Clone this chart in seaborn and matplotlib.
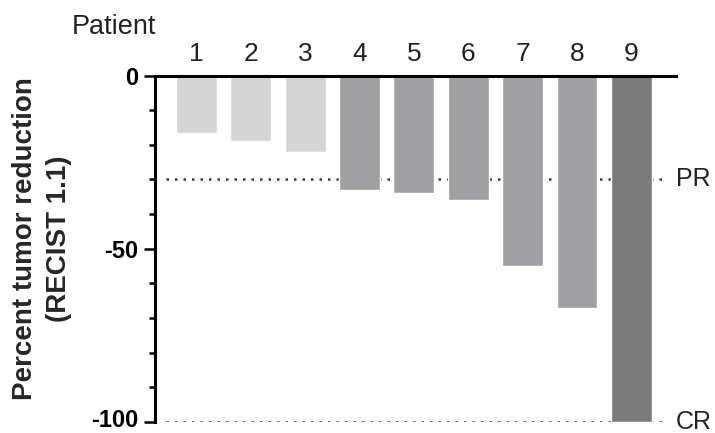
import matplotlib
matplotlib.use("Agg")
import matplotlib.pyplot as plt
import matplotlib.transforms as mtransforms
import seaborn as sns
import pandas as pd

# Best percent change in tumour size per patient (RECIST 1.1)
patients = ["1", "2", "3", "4", "5", "6", "7", "8", "9"]
reduction = [-16.5, -19, -22, -33, -34, -36, -55, -67, -100]
bar_colors = ["#d4d4d4", "#d4d4d4", "#d4d4d4",
              "#a0a0a2", "#a0a0a2", "#a0a0a2", "#a0a0a2", "#a0a0a2",
              "#7b7b7b"]
thresholds = [-30, -100]
threshold_labels = ["PR", "CR"]
y_major = [0, -50, -100]
y_minor = [-10, -20, -30, -40, -60, -70, -80, -90]

sns.set_theme(style="white")
plt.rcParams["font.family"] = ["Liberation Sans", "DejaVu Sans"]

df = pd.DataFrame({"patient": patients, "reduction": reduction})

fig = plt.figure(figsize=(7.15, 4.33), dpi=100)
ax = fig.add_axes([0.2168, 0.0254, 0.7287, 0.8002])

# Response threshold reference lines sit behind the bars
for t in thresholds:
    ax.plot([-0.56, 8.61], [t, t], color="#3a3a3a", lw=1.8,
            linestyle=(0, (1, 2.4)), zorder=0.5)

sns.barplot(data=df, x="patient", y="reduction", hue="patient",
            palette=dict(zip(patients, bar_colors)), legend=False,
            width=0.75, saturation=1, ax=ax, zorder=2)

ax.set_xlim(-0.76, 8.82)
ax.set_ylim(-100, 0)

ax.xaxis.tick_top()
ax.xaxis.set_label_position("top")
ax.tick_params(axis="x", length=0, pad=7, labelsize=19, colors="#222222")
ax.set_xlabel("")

ax.set_yticks(y_major)
ax.set_yticks(y_minor, minor=True)
ax.set_yticklabels([str(v) for v in y_major], fontweight="bold")
ax.tick_params(axis="y", which="major", length=8, width=1.8, pad=4,
               labelsize=17, left=True, color="black", labelcolor="black")
ax.tick_params(axis="y", which="minor", length=4, width=1.8, left=True,
               color="black")

# Nudge the lowest tick label up so it stays inside the figure
bottom_label = ax.get_yticklabels()[-1]
bottom_label.set_transform(bottom_label.get_transform() +
                           mtransforms.ScaledTranslation(0, 3 / 72,
                                                         fig.dpi_scale_trans))

for side in ("right", "bottom"):
    ax.spines[side].set_visible(False)
for side in ("left", "top"):
    ax.spines[side].set_visible(True)
    ax.spines[side].set_color("black")
    ax.spines[side].set_linewidth(2.2)

ax.set_ylabel("")
# Two-line axis title, each line placed on its own
fig.text(25 / 715, 1 - 239 / 433, "Percent tumor reduction", rotation=90,
         ha="center", va="center", fontsize=20, fontweight="bold")
fig.text(59 / 715, 1 - 239 / 433, "(RECIST 1.1)", rotation=90,
         ha="center", va="center", fontsize=20, fontweight="bold")

for t, lab in zip(thresholds, threshold_labels):
    ax.text(1.0, t, lab, transform=ax.get_yaxis_transform(),
            ha="left", va="center", fontsize=18, color="#222222")

fig.text(72 / 715, 1 - 27 / 433, "Patient", ha="left", va="center",
         fontsize=19.5, color="#222222")

fig.savefig("out.png", dpi=100)
